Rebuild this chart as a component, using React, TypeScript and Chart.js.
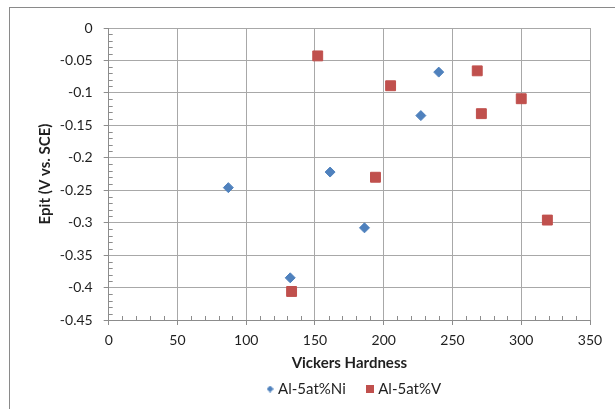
import React, { useEffect, useRef } from 'react';
import { Chart, registerables } from 'chart.js';

Chart.register(...registerables);

// ---- data ----
const SERIES_NAMES = ['Al-5at%Ni', 'Al-5at%V'];
const NI_HARDNESS = [87, 132, 161, 186, 227, 240];
const NI_EPIT = [-0.246, -0.385, -0.222, -0.308, -0.135, -0.068];
const V_HARDNESS = [152, 133, 194, 205, 268, 271, 300, 319];
const V_EPIT = [-0.043, -0.406, -0.23, -0.089, -0.066, -0.132, -0.109, -0.296];

const X_TITLE = 'Vickers Hardness';
const Y_TITLE = 'Epit (V vs. SCE)';
const X_MIN = 0;
const X_MAX = 350;
const X_STEP = 50;
const X_MINOR_STEP = 10;
const Y_MIN = -0.45;
const Y_MAX = 0;
const Y_STEP = 0.05;
const Y_MINOR_STEP = 0.01;

// ---- styles ----
const BLUE = '#4F81BD';
const RED = '#C0504D';
const GRID = '#a8a8a8';
const AXIS = '#8c8c8c';
const TEXT = '#1f1f1f';
const FONT = 'Lato, "Open Sans", "DejaVu Sans", sans-serif';

function makeMarker(shape: 'diamond' | 'square', size: number, color: string) {
  const c = document.createElement('canvas');
  c.width = size;
  c.height = size;
  const g = c.getContext('2d')!;
  g.fillStyle = color;
  if (shape === 'square') {
    g.fillRect(0, 0, size, size);
  } else {
    g.beginPath();
    g.moveTo(size / 2, 0);
    g.lineTo(size, size / 2);
    g.lineTo(size / 2, size);
    g.lineTo(0, size / 2);
    g.closePath();
    g.fill();
  }
  return c;
}

const decorPlugin = {
  id: 'decor',
  beforeDraw(chart: any) {
    const ctx = chart.ctx;
    ctx.save();
    ctx.strokeStyle = '#8a8a8a';
    ctx.lineWidth = 1;
    ctx.strokeRect(9.5, 7.5, 800, 600);
    ctx.restore();
  },
  afterLayout(chart: any) {
    const lg = chart.legend;
    const ca = chart.chartArea;
    if (lg && ca) {
      lg.left = ca.left + 6;
      lg.right = ca.right + 6;
      lg.top = 357.5;
    }
  },
  beforeDatasetsDraw(chart: any) {
    const ctx = chart.ctx;
    const xs = chart.scales.x;
    const ys = chart.scales.y;
    const ca = chart.chartArea;
    ctx.save();
    ctx.strokeStyle = AXIS;
    ctx.lineWidth = 1;
    ctx.beginPath();
    const nx = Math.round((X_MAX - X_MIN) / X_MINOR_STEP);
    const perX = Math.round(X_STEP / X_MINOR_STEP);
    for (let i = 0; i <= nx; i++) {
      if (i % perX === 0) continue;
      const px = Math.round(xs.getPixelForValue(X_MIN + i * X_MINOR_STEP)) + 0.5;
      ctx.moveTo(px, ca.bottom);
      ctx.lineTo(px, ca.bottom - 4);
    }
    const ny = Math.round((Y_MAX - Y_MIN) / Y_MINOR_STEP);
    const perY = Math.round(Y_STEP / Y_MINOR_STEP);
    for (let i = 0; i <= ny; i++) {
      if (i % perY === 0) continue;
      const py = Math.round(ys.getPixelForValue(Y_MIN + i * Y_MINOR_STEP)) + 0.5;
      ctx.moveTo(ca.left, py);
      ctx.lineTo(ca.left + 4, py);
    }
    ctx.stroke();
    ctx.restore();
  },
};

export default function App() {
  const ref = useRef<HTMLCanvasElement | null>(null);

  useEffect(() => {
    document.body.style.margin = '0';
    const canvas = ref.current;
    if (!canvas) return;
    const legendMarkers = [makeMarker('diamond', 7, BLUE), makeMarker('square', 8, RED)];

    const chart = new Chart(canvas, {
      type: 'scatter',
      data: {
        datasets: [
          {
            label: SERIES_NAMES[0],
            data: NI_HARDNESS.map((x, i) => ({ x, y: NI_EPIT[i] })),
            pointStyle: 'rectRot',
            pointRadius: 5,
            backgroundColor: BLUE,
            borderColor: BLUE,
            borderWidth: 1,
          },
          {
            label: SERIES_NAMES[1],
            data: V_HARDNESS.map((x, i) => ({ x, y: V_EPIT[i] })),
            pointStyle: 'rect',
            pointRadius: 7,
            backgroundColor: RED,
            borderColor: RED,
            borderWidth: 1,
          },
        ],
      },
      options: {
        responsive: false,
        devicePixelRatio: 1,
        animation: false,
        events: [],
        layout: { padding: { left: 30, top: 28, right: 25, bottom: -11 } },
        plugins: {
          tooltip: { enabled: false },
          title: { display: false },
          legend: {
            display: true,
            position: 'bottom',
            labels: {
              usePointStyle: true,
              boxWidth: 1,
              boxHeight: 8,
              padding: 24,
              color: TEXT,
              font: { family: FONT, size: 15 },
              generateLabels: (ch: any) => {
                const items = (Chart.defaults.plugins.legend.labels as any).generateLabels(ch);
                return items.map((it: any, i: number) => ({ ...it, pointStyle: legendMarkers[i], lineWidth: 0 }));
              },
            },
          },
        },
        scales: {
          x: {
            type: 'linear',
            min: X_MIN,
            max: X_MAX,
            afterFit: (s: any) => {
              s.height = 51;
            },
            ticks: {
              stepSize: X_STEP,
              padding: 7,
              color: TEXT,
              font: { family: FONT, size: 14 },
            },
            grid: { color: GRID, tickColor: AXIS, tickLength: 5 },
            border: { color: AXIS },
            title: {
              display: true,
              text: X_TITLE,
              color: TEXT,
              font: { family: FONT, size: 15, weight: 'bold', lineHeight: 1 },
              padding: { top: 0, bottom: 0 },
            },
          },
          y: {
            type: 'linear',
            min: Y_MIN,
            max: Y_MAX,
            afterFit: (s: any) => {
              s.width = 78.7;
            },
            ticks: {
              stepSize: Y_STEP,
              padding: 11,
              color: TEXT,
              font: { family: FONT, size: 14 },
              callback: (v: any) => String(Number(Number(v).toFixed(2))),
            },
            grid: { color: GRID, tickColor: AXIS, tickLength: 5 },
            border: { color: AXIS },
            title: {
              display: true,
              text: Y_TITLE,
              color: TEXT,
              font: { family: FONT, size: 15, weight: 'bold', lineHeight: 1 },
              padding: { top: 8, bottom: 0 },
            },
          },
        },
      },
      plugins: [decorPlugin],
    } as any);

    return () => chart.destroy();
  }, []);

  return (
    <div style={{ width: 615, height: 409, background: '#ffffff' }}>
      <canvas ref={ref} width={615} height={409} style={{ display: 'block' }} />
    </div>
  );
}
